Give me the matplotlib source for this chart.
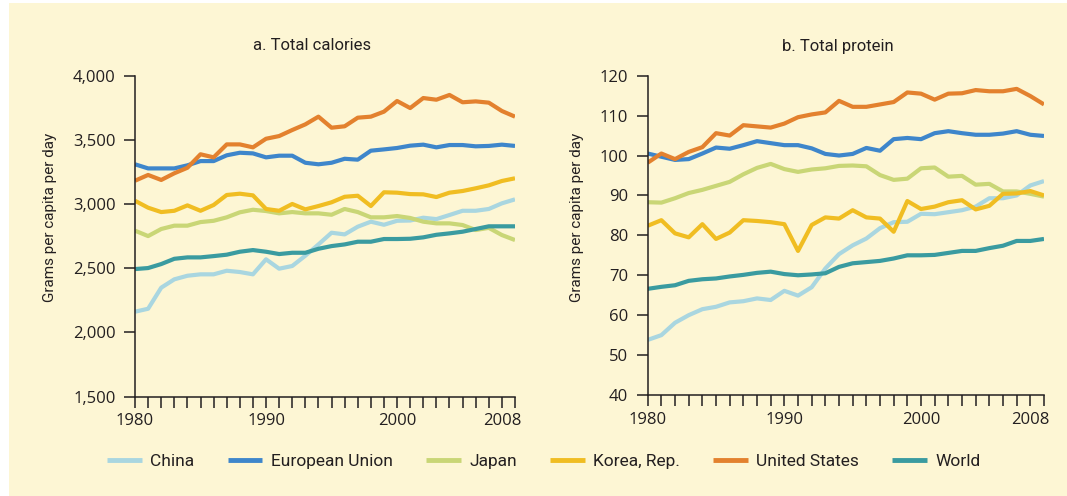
import numpy as np
import matplotlib
matplotlib.use('Agg')
import matplotlib.pyplot as plt
from matplotlib.ticker import FuncFormatter, MultipleLocator
from matplotlib.patches import Rectangle

# Data, 1980-2009
years = list(range(1980, 2010))

names = ['China', 'European Union', 'Japan', 'Korea, Rep.', 'United States', 'World']
colors = ['#a9d6e0', '#3e86cb', '#c9d676', '#f0bd22', '#e3812e', '#3a9ba0']

# a. Total calories
cal_china = [2162, 2185, 2349, 2414, 2442, 2453, 2453, 2481, 2471, 2453, 2570, 2497, 2518, 2598, 2686,
             2777, 2764, 2824, 2863, 2839, 2870, 2872, 2894, 2883, 2915, 2948, 2948, 2962, 3006, 3037]
cal_eu = [3310, 3278, 3278, 3278, 3302, 3335, 3335, 3380, 3400, 3395, 3364, 3377, 3377, 3322, 3310,
          3322, 3353, 3346, 3416, 3426, 3437, 3455, 3463, 3442, 3460, 3460, 3450, 3453, 3463, 3453]
cal_japan = [2793, 2751, 2806, 2832, 2832, 2860, 2870, 2897, 2936, 2956, 2946, 2928, 2938, 2928, 2928,
             2917, 2962, 2938, 2897, 2897, 2907, 2892, 2863, 2850, 2850, 2837, 2798, 2815, 2759, 2720]
cal_korea = [3026, 2972, 2938, 2948, 2990, 2948, 2993, 3071, 3081, 3068, 2962, 2948, 3001, 2959, 2985,
             3014, 3057, 3065, 2985, 3092, 3089, 3078, 3076, 3055, 3089, 3102, 3123, 3146, 3180, 3201]
cal_us = [3182, 3227, 3188, 3240, 3283, 3388, 3364, 3465, 3465, 3442, 3509, 3530, 3577, 3621, 3681,
          3595, 3606, 3673, 3681, 3720, 3803, 3748, 3826, 3813, 3850, 3793, 3800, 3790, 3725, 3681]
cal_world = [2494, 2502, 2533, 2574, 2585, 2585, 2595, 2606, 2629, 2642, 2629, 2611, 2621, 2621, 2652,
             2673, 2686, 2707, 2707, 2728, 2728, 2730, 2741, 2761, 2772, 2785, 2806, 2827, 2827, 2827]

# b. Total protein
pro_china = [53.8, 55.0, 58.1, 60.0, 61.5, 62.1, 63.2, 63.5, 64.2, 63.8, 66.1, 64.9, 67.0, 71.7, 75.3,
             77.5, 79.2, 81.8, 83.3, 83.4, 85.4, 85.3, 85.8, 86.3, 87.2, 89.3, 89.3, 90.0, 92.5, 93.6]
pro_eu = [100.5, 99.7, 98.9, 99.1, 100.5, 102.0, 101.7, 102.6, 103.6, 103.1, 102.6, 102.6, 101.8, 100.4, 100.0,
          100.4, 101.9, 101.2, 104.1, 104.4, 104.1, 105.6, 106.1, 105.6, 105.2, 105.2, 105.5, 106.1, 105.2, 104.9]
pro_japan = [88.3, 88.2, 89.3, 90.6, 91.4, 92.4, 93.4, 95.3, 96.9, 97.9, 96.6, 95.9, 96.5, 96.8, 97.4,
             97.5, 97.3, 95.1, 93.9, 94.2, 96.8, 97.0, 94.7, 94.9, 92.7, 92.9, 91.0, 91.0, 90.4, 89.7]
pro_korea = [82.4, 83.8, 80.5, 79.5, 82.8, 79.1, 80.7, 83.8, 83.6, 83.3, 82.8, 76.1, 82.6, 84.5, 84.2,
             86.3, 84.5, 84.2, 80.9, 88.6, 86.6, 87.2, 88.3, 88.8, 86.5, 87.4, 90.4, 90.5, 91.1, 90.0]
pro_us = [98.2, 100.5, 99.1, 100.9, 102.1, 105.6, 105.0, 107.6, 107.3, 107.0, 108.0, 109.6, 110.3, 110.8, 113.7,
          112.2, 112.2, 112.8, 113.4, 115.8, 115.5, 114.0, 115.5, 115.6, 116.4, 116.1, 116.1, 116.7, 114.9, 112.8]
pro_world = [66.6, 67.1, 67.5, 68.6, 69.0, 69.2, 69.7, 70.1, 70.6, 70.9, 70.3, 70.0, 70.2, 70.5, 72.1,
             73.0, 73.3, 73.6, 74.2, 75.0, 75.0, 75.1, 75.6, 76.1, 76.1, 76.8, 77.4, 78.6, 78.6, 79.1]

calories = [cal_china, cal_eu, cal_japan, cal_korea, cal_us, cal_world]
protein = [pro_china, pro_eu, pro_japan, pro_korea, pro_us, pro_world]

W, H = 1067, 496
bg = '#fdf6d4'
txt = '#231f20'
narrow = ['Roboto', 'DejaVu Sans']
plt.rcParams['font.family'] = ['Open Sans', 'DejaVu Sans']

fig = plt.figure(figsize=(W / 100, H / 100), dpi=100)
fig.patch.set_facecolor('white')
fig.patches.append(Rectangle((9 / W, 0), 1, 1 - 3 / H, transform=fig.transFigure,
                             facecolor=bg, edgecolor='none', zorder=-10))


def box(x0, x1, y0, y1):
    # pixel box -> figure fraction rect
    return [x0 / W, 1 - y1 / H, (x1 - x0) / W, (y1 - y0) / H]


ax1 = fig.add_axes(box(135, 515, 75.7, 396.7))
ax2 = fig.add_axes(box(647.7, 1044, 75.7, 395))

panels = [
    (ax1, calories, (1500, 4000), 500, 'a. Total calories', 312),
    (ax2, protein, (40, 120), 10, 'b. Total protein', 838),
]

for ax, series, ylim, step, title, tx in panels:
    ax.set_facecolor('none')
    for vals, name, c in zip(series, names, colors):
        ax.plot(years, vals, color=c, lw=3, label=name, solid_capstyle='butt')
    ax.set_xlim(1980, 2009)
    ax.set_ylim(*ylim)
    ax.yaxis.set_major_locator(MultipleLocator(step))
    if step >= 100:
        ax.yaxis.set_major_formatter(FuncFormatter(lambda v, p: f'{int(v):,}'))
    ax.set_xticks([1980, 1990, 2000, 2008])
    ax.xaxis.set_minor_locator(MultipleLocator(1))
    for s in ['top', 'right']:
        ax.spines[s].set_visible(False)
    for s in ['left', 'bottom']:
        ax.spines[s].set_linewidth(1.1)
        ax.spines[s].set_color(txt)
    ax.tick_params(axis='both', which='both', direction='out', length=8, width=1.1,
                   color=txt, labelcolor=txt, labelsize=12)
    ax.tick_params(axis='x', pad=4)
    ax.tick_params(axis='y', pad=6)
    fig.text(tx / W, 1 - 46 / H, title, ha='center', va='center', fontsize=12,
             color=txt, family=narrow)

for lx in (50, 577):
    fig.text(lx / W, 1 - 217 / H, 'Grams per capita per day', rotation=90, ha='center',
             va='center', fontsize=11, color=txt, family=narrow)

handles, labels = ax1.get_legend_handles_labels()
leg = fig.legend(handles, labels, loc='center', bbox_to_anchor=(544 / W, 1 - 461 / H),
                 ncol=6, frameon=False, handlelength=2.0, handletextpad=0.5,
                 columnspacing=1.9, prop={'family': narrow, 'size': 12.5})
for t in leg.get_texts():
    t.set_color(txt)
for h in leg.legend_handles:
    h.set_linewidth(3.5)

fig.savefig('out.png', dpi=100, facecolor='white')
